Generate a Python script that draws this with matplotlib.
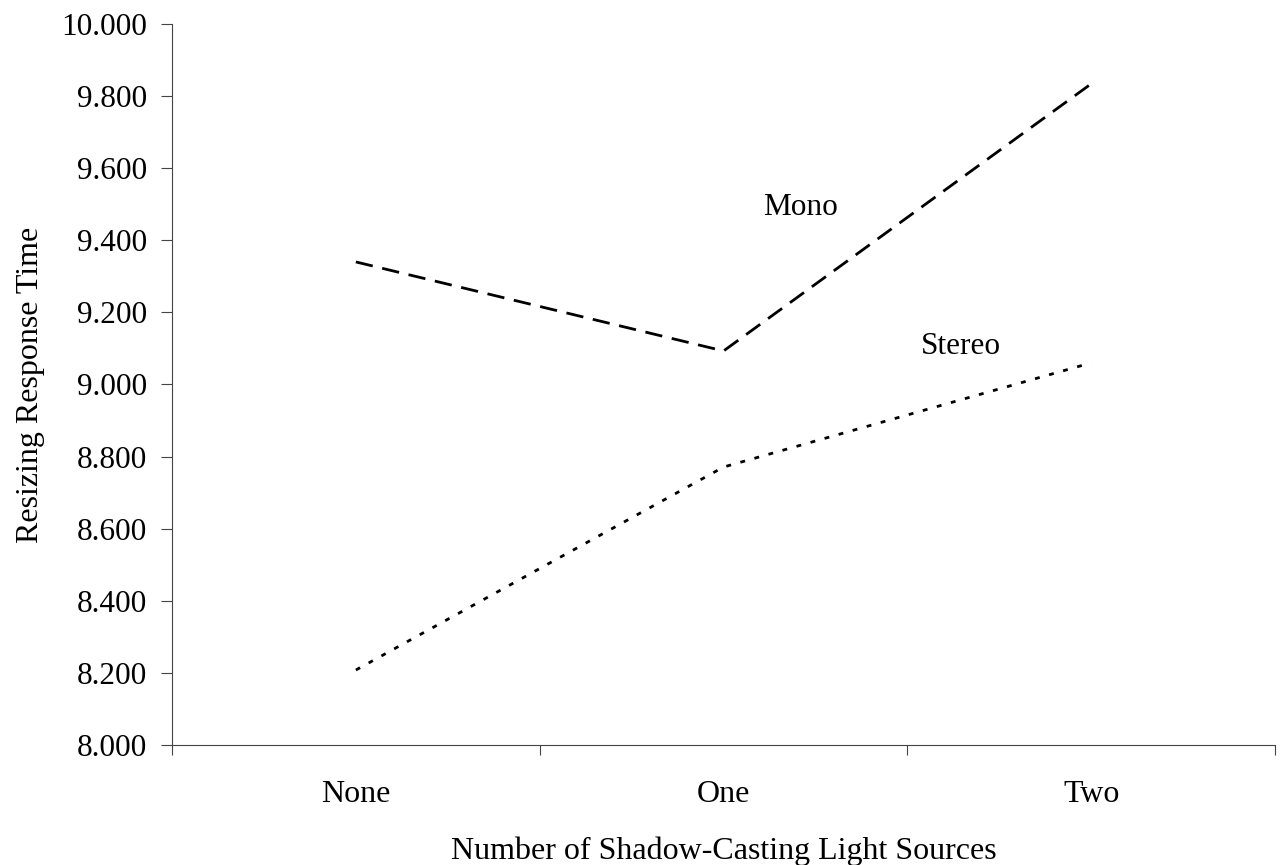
import matplotlib.pyplot as plt

# Data
categories = ['None', 'One', 'Two']
mono = [9.340, 9.093, 9.834]
stereo = [8.208, 8.771, 9.060]
y_ticks = [8.0, 8.2, 8.4, 8.6, 8.8, 9.0, 9.2, 9.4, 9.6, 9.8, 10.0]

plt.rcParams['font.family'] = ['Liberation Serif', 'DejaVu Serif']
plt.rcParams['lines.scale_dashes'] = False

fig = plt.figure(figsize=(12.8, 8.65), dpi=100)
ax = fig.add_axes([0.1344, 0.1387, 0.8617, 0.8336])

x = [i + 0.5 for i in range(len(categories))]
ax.plot(x, mono, color='black', linewidth=2.0, linestyle=(0, (12.5, 7.0)))
ax.plot(x, stereo, color='black', linewidth=2.0, linestyle=(0, (3.5, 7.0)))

# series labels placed next to the lines
ax.text(x[1] + 0.21, 9.49, 'Mono', fontsize=22.5, ha='center', va='center')
ax.text(x[1] + 0.645, 9.104, 'Stereo', fontsize=22.5, ha='center', va='center')

ax.set_xlim(0, 3)
ax.set_ylim(8.0, 10.0)
ax.set_xticks([0, 1, 2, 3])
ax.set_xticklabels([])
ax.set_xticks(x, minor=True)
ax.set_xticklabels(categories, minor=True, fontsize=23)
ax.tick_params(axis='x', which='minor', length=0, pad=25)
ax.tick_params(axis='x', which='major', length=7, color='#444444')
ax.set_yticks(y_ticks)
ax.set_yticklabels(['%.3f' % v for v in y_ticks], fontsize=22.5)
ax.tick_params(axis='y', length=8, pad=10, color='#444444')

ax.spines['top'].set_visible(False)
ax.spines['right'].set_visible(False)
ax.spines['left'].set_color('#444444')
ax.spines['bottom'].set_color('#444444')

ax.set_xlabel('Number of Shadow-Casting Light Sources', fontsize=23)
ax.xaxis.label.set_va('baseline')
ax.xaxis.set_label_coords(0.5, -0.158)
ax.set_ylabel('Resizing Response Time', fontsize=23)
ax.yaxis.label.set_va('center')
ax.yaxis.set_label_coords(-0.128, 0.5)

fig.savefig('out.png', dpi=100)
